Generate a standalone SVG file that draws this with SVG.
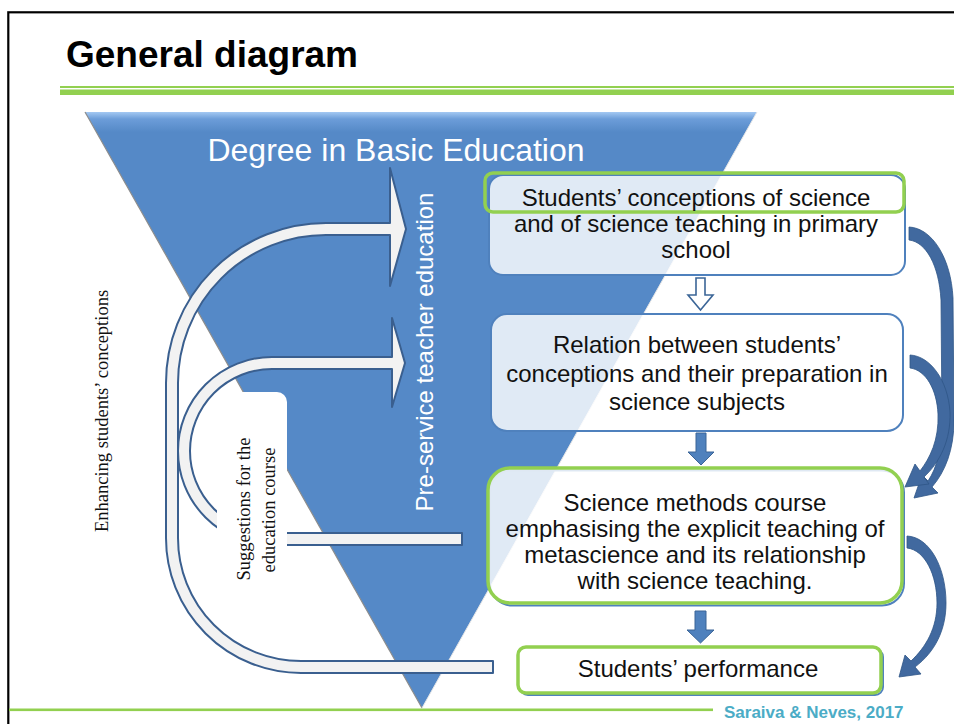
<svg xmlns="http://www.w3.org/2000/svg" width="954" height="724" viewBox="0 0 954 724">
  <defs>
    <linearGradient id="triFill" gradientUnits="userSpaceOnUse" x1="0" y1="112" x2="0" y2="132">
      <stop offset="0" stop-color="#A3C8F2"/>
      <stop offset="0.35" stop-color="#6C9DD9"/>
      <stop offset="1" stop-color="#5589C7"/>
    </linearGradient>
    <style>
      .hollow { fill:#F2F2F2; stroke:#3A5F8F; stroke-width:2; stroke-linejoin:round; }
      .curved { fill:#41699F; stroke:#2F5687; stroke-width:0.8; stroke-linejoin:round; }
      .down { fill:#4F81BD; stroke:#3B6597; stroke-width:1; }
      .downHollow { fill:#FFFFFF; stroke:#3B6597; stroke-width:1.6; }
      .boxtxt { font-family:"Liberation Sans", Arial, sans-serif; font-size:24px; fill:#111111; text-anchor:middle; }
      .serif { font-family:"Liberation Serif", "Times New Roman", serif; font-size:18.5px; fill:#111111; text-anchor:middle; }
      .box { fill:#FFFFFF; fill-opacity:0.82; }
      .blueEdge { stroke:#4F81BD; stroke-width:2; }
      .greenEdge { stroke:#92D050; stroke-width:3.5; }
    </style>
  </defs>

  <!-- slide frame and rules -->
  <rect x="8.3" y="12.3" width="980" height="740" fill="#FFFFFF" stroke="#000000" stroke-width="2.2"/>
  <text x="66" y="67" font-family="Liberation Sans, Arial, sans-serif" font-size="37" font-weight="bold" fill="#000000">General diagram</text>
  <rect x="60" y="86" width="894" height="2" fill="#92D050"/>
  <rect x="60" y="89.5" width="894" height="5.5" fill="#92D050"/>
  <rect x="9" y="708.5" width="704" height="2.6" fill="#92D050"/>
  <text x="724" y="718" font-family="Liberation Sans, Arial, sans-serif" font-size="17" font-weight="bold" fill="#4BACC6">Saraiva &amp; Neves, 2017</text>

  <!-- degree funnel -->
  <g id="degree">
    <polygon points="85,112 757,112 422,708" fill="url(#triFill)"/>
    <line x1="85" y1="112" x2="422" y2="708" stroke="#8C8C8C" stroke-width="1.2"/>
    <line x1="757" y1="112" x2="422" y2="708" stroke="#E6E6E6" stroke-width="1"/>
    <text x="396" y="161" font-family="Liberation Sans, Arial, sans-serif" font-size="32" fill="#FFFFFF" text-anchor="middle">Degree in Basic Education</text>
    <text transform="translate(433,352) rotate(-90)" font-family="Liberation Sans, Arial, sans-serif" font-size="24" fill="#FFFFFF" text-anchor="middle">Pre-service teacher education</text>
  </g>

  <!-- feedback arrows on the left -->
  <g id="enhancing">
    <path class="hollow" d="M406,229 L390,286 L390,235 L326,235 A148,148 0 0 0 178,383 L178,538 A123,123 0 0 0 301,661 L493,661 L493,673 L301,673 A135,135 0 0 1 166,538 L166,383 A160,160 0 0 1 326,223 L390,223 L390,168 Z"/>
    <text class="serif" transform="translate(108,411) rotate(-90)">Enhancing students’ conceptions</text>
  </g>
  <g id="suggestions">
    <path class="hollow" d="M405,363 L392,407 L392,369 L272,369 A82,82 0 0 0 190,451 A82,82 0 0 0 272,533 L462,533 L462,545 L272,545 A94,94 0 0 1 178,451 A94,94 0 0 1 272,357 L392,357 L392,318 Z"/>
    <rect x="217" y="392" width="70" height="175" rx="10" fill="#FFFFFF"/>
    <text class="serif" transform="translate(250,509) rotate(-90)">Suggestions for the</text>
    <text class="serif" transform="translate(275,510) rotate(-90)">education course</text>
  </g>

  <!-- stages of the study -->
  <g id="conceptions">
    <rect class="box blueEdge" x="489" y="175" width="416" height="100" rx="14"/>
    <rect class="greenEdge" x="485" y="173" width="419" height="39" rx="8" fill="none"/>
    <text class="boxtxt" x="696" y="206">Students’ conceptions of science</text>
    <text class="boxtxt" x="696" y="232">and of science teaching in primary</text>
    <text class="boxtxt" x="696" y="258">school</text>
  </g>
  <g id="relation">
    <rect class="box blueEdge" x="491" y="314" width="412" height="117" rx="16"/>
    <text class="boxtxt" x="697" y="353">Relation between students’</text>
    <text class="boxtxt" x="697" y="381.5">conceptions and their preparation in</text>
    <text class="boxtxt" x="697" y="410">science subjects</text>
  </g>
  <g id="methods">
    <rect class="blueEdge" x="490" y="470.5" width="414" height="135" rx="22" fill="none"/>
    <rect class="box greenEdge" x="488" y="468" width="414" height="135" rx="22"/>
    <text class="boxtxt" x="695" y="511">Science methods course</text>
    <text class="boxtxt" x="695" y="537">emphasising the explicit teaching of</text>
    <text class="boxtxt" x="695" y="563">metascience and its relationship</text>
    <text class="boxtxt" x="695" y="589">with science teaching.</text>
  </g>
  <g id="performance">
    <rect class="blueEdge" x="520" y="649" width="363" height="46" rx="8" fill="none"/>
    <rect class="greenEdge" x="518" y="647" width="363" height="46" rx="8" fill="#FFFFFF"/>
    <text class="boxtxt" x="698" y="677">Students’ performance</text>
  </g>

  <!-- connectors -->
  <g id="connectors">
    <path class="downHollow" d="M696,278 H705 V295 H713 L700.5,310 L688,295 H696 Z"/>
    <path class="down" d="M696,433 H706 V452 H714 L701,465 L688,452 H696 Z"/>
    <path class="down" d="M695,611 H706 V630 H714 L700.5,643 L687,630 H695 Z"/>
    <path class="curved" d="M909,227 C932,228 951,258 953,298 L954,420 C954,450 945,472 932,487 L938,493 L914,498 L922,475 L928,481 C937,468 942,448 942,420 L941,300 C939,265 926,242 909,240 Z"/>
    <path class="curved" d="M910,355 C930,356 948,380 950,412 C951,440 940,462 924,477 L929,484 L905,487 L915,464 L920,471 C930,458 939,440 938,414 C937,390 926,370 910,368 Z"/>
    <path class="curved" d="M907,536 C930,537 946,568 946,603 C946,630 935,652 915,667 L921,674 L899,677 L905,655 L911,661 C926,647 937,628 937,603 C937,575 925,550 907,548 Z"/>
  </g>
</svg>
